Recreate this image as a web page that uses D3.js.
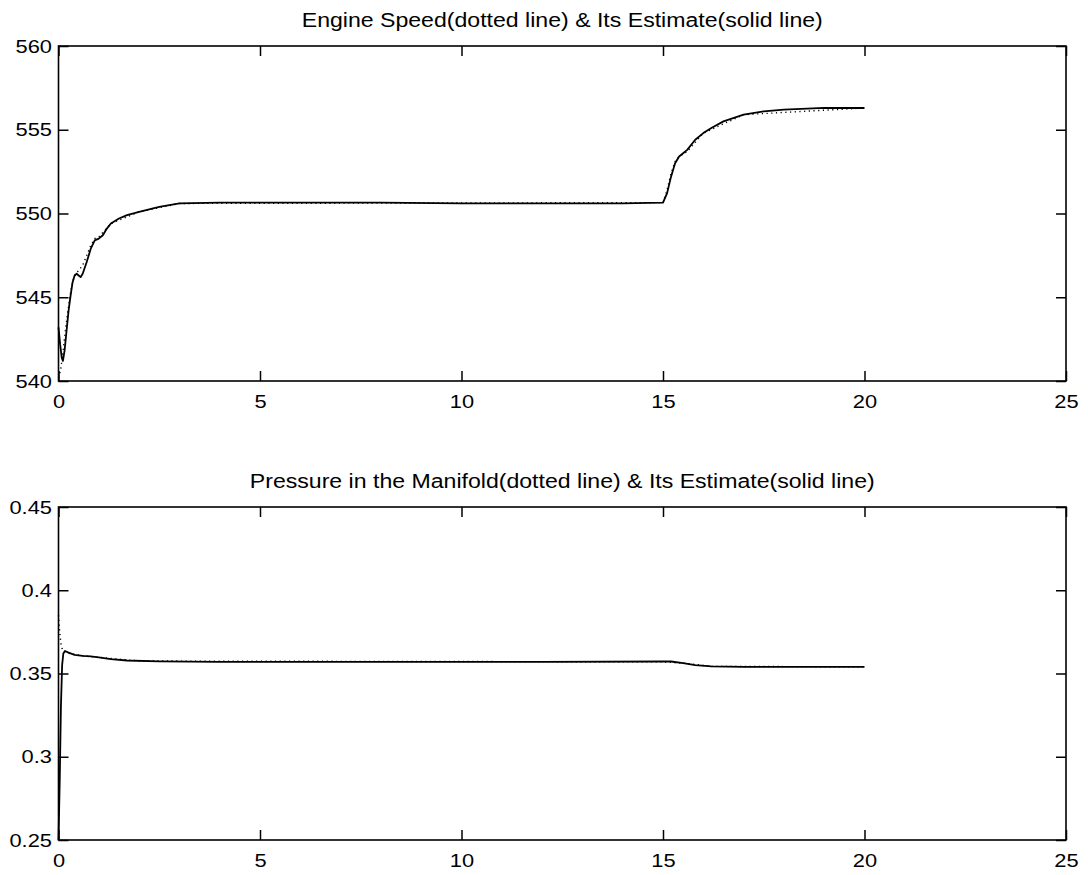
<!DOCTYPE html>
<html>
<head>
<meta charset="utf-8">
<title>Engine Speed and Manifold Pressure</title>
<script src="https://d3js.org/d3.v7.min.js"></script>
<style>
  body { margin: 0; background: #fff; }
  text { font-family: "Liberation Sans", Arial, sans-serif; fill: #000; }
</style>
</head>
<body>
<div id="chart"></div>
<script>
// ---- data ----
var xTicks = [0, 5, 10, 15, 20, 25];

// engine speed, solid = estimate, dotted = measured
var speedTicks = [540, 545, 550, 555, 560];
var speedEstT = [0, 0.04, 0.08, 0.11, 0.15, 0.2, 0.25, 0.3, 0.35, 0.4, 0.45, 0.5, 0.55, 0.6, 0.7, 0.8, 0.9, 1.0, 1.1, 1.2, 1.3, 1.5, 1.7, 2.0, 2.5, 3.0, 4.0, 6, 8, 10, 12, 14, 15.0, 15.1, 15.2, 15.3, 15.4, 15.5, 15.6, 15.8, 16.0, 16.2, 16.5, 17.0, 17.5, 18.0, 19.0, 20.0];
var speedEst  = [543.2, 542.2, 541.4, 541.2, 541.8, 543.0, 544.2, 545.1, 545.9, 546.3, 546.4, 546.3, 546.2, 546.4, 547.1, 547.9, 548.4, 548.5, 548.7, 549.1, 549.4, 549.7, 549.9, 550.1, 550.4, 550.6, 550.65, 550.65, 550.65, 550.6, 550.6, 550.6, 550.65, 551.2, 552.2, 553.0, 553.4, 553.6, 553.8, 554.4, 554.8, 555.1, 555.5, 555.9, 556.1, 556.2, 556.3, 556.3];
var speedMeasT = [0, 0.05, 0.1, 0.15, 0.2, 0.25, 0.3, 0.35, 0.4, 0.5, 0.6, 0.7, 0.8, 0.9, 1.0, 1.3, 2.0, 3.0, 15.0, 15.1, 15.2, 15.3, 15.4, 15.6, 16.0, 17.0, 20.0];
var speedMeas  = [540.2, 540.6, 541.5, 542.6, 543.6, 544.5, 545.3, 545.9, 546.3, 546.6, 546.9, 547.5, 548.1, 548.5, 548.6, 549.4, 550.1, 550.6, 550.65, 551.4, 552.4, 553.1, 553.4, 553.7, 554.8, 555.9, 556.3];

// manifold pressure, solid = estimate, dotted = measured
var pressTicks = [0.25, 0.3, 0.35, 0.4, 0.45];
var pressTickLabels = ["0.25", "0.3", "0.35", "0.4", "0.45"];
var pressEstT = [0, 0.03, 0.06, 0.09, 0.12, 0.16, 0.25, 0.4, 0.6, 0.8, 1.0, 1.3, 1.7, 2.5, 4, 8, 12, 15.0, 15.2, 15.5, 15.8, 16.2, 17.0, 20.0];
var pressEst  = [0.25, 0.285, 0.33, 0.355, 0.362, 0.3635, 0.3625, 0.3612, 0.3606, 0.3603, 0.3597, 0.3586, 0.3578, 0.3573, 0.357, 0.357, 0.357, 0.3572, 0.3572, 0.3562, 0.355, 0.3543, 0.354, 0.354];
var pressMeasT = [0, 0.03, 0.06, 0.1, 0.15, 0.3, 0.6, 1.0, 2.0, 15.0, 15.5, 16.2, 20.0];
var pressMeas  = [0.385, 0.375, 0.368, 0.364, 0.3628, 0.3618, 0.3606, 0.3597, 0.3575, 0.357, 0.3562, 0.3543, 0.354];

// ---- layout ----
var W = 1088, H = 875;
var left = 58.5, right = 1066;
var panels = [
    {top: 46, bottom: 381, title: "Engine Speed(dotted line) & Its Estimate(solid line)",
     domain: [540, 560], ticks: speedTicks, labels: speedTicks.map(String),
     est: [speedEstT, speedEst], meas: [speedMeasT, speedMeas]},
    {top: 507, bottom: 840, title: "Pressure in the Manifold(dotted line) & Its Estimate(solid line)",
     domain: [0.25, 0.45], ticks: pressTicks, labels: pressTickLabels,
     est: [pressEstT, pressEst], meas: [pressMeasT, pressMeas]}
];

var svg = d3.select("#chart").append("svg")
    .attr("width", W)
    .attr("height", H);

var x = d3.scaleLinear().domain([0, 25]).range([left, right]);

function zip(pair) {
    return pair[0].map(function (t, i) { return [t, pair[1][i]]; });
}

panels.forEach(function (p) {
    var y = d3.scaleLinear().domain(p.domain).range([p.bottom, p.top]);
    var g = svg.append("g");

    // inward ticks on all four sides
    var bottomAxis = d3.axisBottom(x).tickValues(xTicks).tickSize(-10).tickPadding(14);
    var topAxis = d3.axisTop(x).tickValues(xTicks).tickSize(-10).tickFormat("");
    var leftAxis = d3.axisLeft(y).tickValues(p.ticks).tickSize(-10).tickPadding(5.7)
        .tickFormat(function (d, i) { return p.labels[i]; });
    var rightAxis = d3.axisRight(y).tickValues(p.ticks).tickSize(-10).tickFormat("");

    g.append("g").attr("transform", "translate(0," + p.bottom + ")").call(bottomAxis);
    g.append("g").attr("transform", "translate(0," + p.top + ")").call(topAxis);
    g.append("g").attr("transform", "translate(" + left + ",0)").call(leftAxis);
    g.append("g").attr("transform", "translate(" + right + ",0)").call(rightAxis);

    g.selectAll(".domain").remove();
    g.selectAll(".tick line").attr("stroke", "#000").attr("stroke-width", 1.5);
    // the scanned lettering is a bit wider than Arial, stretch it slightly
    g.selectAll(".tick text")
        .style("font-size", "19px")
        .style("font-family", "'Liberation Sans', Arial, sans-serif")
        .attr("fill", "#000")
        .attr("transform", "scale(1.15,1)");

    g.append("rect")
        .attr("x", left).attr("y", p.top)
        .attr("width", right - left).attr("height", p.bottom - p.top)
        .attr("fill", "none").attr("stroke", "#000").attr("stroke-width", 1.6);

    var line = d3.line()
        .x(function (d) { return x(d[0]); })
        .y(function (d) { return y(d[1]); });

    g.append("path")
        .datum(zip(p.meas))
        .attr("d", line)
        .attr("fill", "none")
        .attr("stroke", "#000")
        .attr("stroke-width", 1.4)
        .attr("stroke-dasharray", "1.2,3.5");

    g.append("path")
        .datum(zip(p.est))
        .attr("d", line)
        .attr("fill", "none")
        .attr("stroke", "#000")
        .attr("stroke-width", 1.8)
        .attr("stroke-linejoin", "round");

    svg.append("text")
        .attr("transform", "translate(" + ((left + right) / 2) + "," + (p.top - 19) + ") scale(1.1,1)")
        .attr("text-anchor", "middle")
        .style("font-size", "21px")
        .text(p.title);
});
</script>
</body>
</html>
